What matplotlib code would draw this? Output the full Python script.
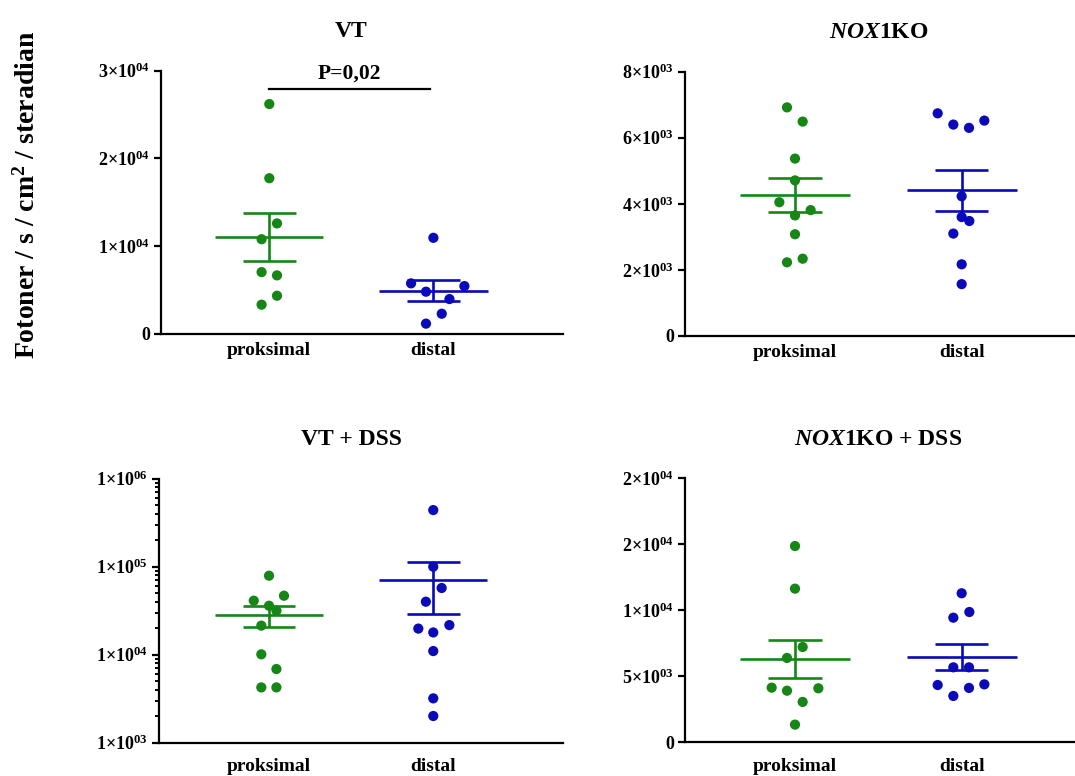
import numpy as np
import matplotlib
matplotlib.use("Agg")
import matplotlib.pyplot as plt
from matplotlib.ticker import FixedLocator, FixedFormatter, NullFormatter

plt.rcParams.update({
    "font.family": "Liberation Serif",
    "font.weight": "bold",
    "mathtext.fontset": "custom",
    "mathtext.rm": "Liberation Serif:bold",
    "mathtext.it": "Liberation Serif:italic:bold",
    "mathtext.bf": "Liberation Serif:bold",
    "axes.linewidth": 1.6,
})

groups = ["proksimal", "distal"]

# Fotoner / s / cm^2 / steradian per mus
vt_prox = [26200, 17750, 12600, 10800, 7050, 6680, 4360, 3340]
vt_dist = [10960, 5770, 5460, 4820, 3980, 2310, 1180]

ko_prox = [6920, 6490, 5370, 4710, 4050, 3810, 3650, 3080, 2340, 2230]
ko_dist = [6740, 6520, 6400, 6300, 4230, 3600, 3480, 3100, 2170, 1570]

vtdss_prox = [79000, 46800, 41100, 36000, 31600, 21400, 10100, 6870, 4250, 4250]
vtdss_dist = [440000, 100000, 57300, 40000, 21700, 19800, 17900, 11000, 3190, 2010]

kodss_prox = [14870, 11640, 7220, 6390, 4140, 4090, 3910, 3060, 1340]
kodss_dist = [11290, 9870, 9440, 5680, 5680, 4340, 4390, 4120, 3510]

# sideways spread of the dots inside each column (fraction of column spacing)
vt_prox_dx = [0, 0, 0.047, -0.047, -0.047, 0.047, 0.047, -0.047]
vt_dist_dx = [0, -0.136, 0.189, -0.045, 0.098, 0.051, -0.045]
ko_prox_dx = [-0.048, 0.046, 0, 0, -0.094, 0.094, 0, 0, 0.046, -0.048]
ko_dist_dx = [-0.144, 0.136, -0.05, 0.044, 0, 0, 0.046, -0.05, 0, 0]
vtdss_prox_dx = [0, 0.091, -0.093, 0, 0.045, -0.047, -0.047, 0.045, -0.047, 0.045]
vtdss_dist_dx = [0, 0, 0.051, -0.045, 0.098, -0.091, 0, 0, 0, 0]
kodss_prox_dx = [0, 0, 0.046, -0.048, -0.14, 0.14, -0.048, 0.046, 0]
kodss_dist_dx = [0, 0.046, -0.05, -0.05, 0.044, -0.144, 0.136, 0.044, -0.05]

GREEN = "#168616"
BLUE = "#0a0ab8"


def sci(m, e):
    return f"{m}×10$^{{{e}}}$"


fig = plt.figure(figsize=(10.75, 7.76), dpi=100)


def panel(rect, title, prox, dist, prox_dx, dist_dx, ticks, labels, xlim,
          log=False, xpad=6):
    ax = fig.add_axes(rect)
    for i, (vals, dx, col) in enumerate([(prox, prox_dx, GREEN),
                                         (dist, dist_dx, BLUE)]):
        v = np.asarray(vals, float)
        m = v.mean()
        sem = v.std(ddof=1) / np.sqrt(len(v))
        ax.hlines(m, i - 0.33, i + 0.33, color=col, lw=1.9, zorder=2)
        ax.hlines([m - sem, m + sem], i - 0.16, i + 0.16, color=col, lw=1.9, zorder=2)
        ax.vlines(i, m - sem, m + sem, color=col, lw=1.9, zorder=2)
        ax.scatter(i + np.asarray(dx), v, s=54, color=col, edgecolor="none",
                   zorder=3, clip_on=False)

    if log:
        ax.set_yscale("log")
        ax.yaxis.set_minor_locator(FixedLocator(
            [k * 10.0 ** d for d in range(3, 6) for k in range(2, 10)]))
        ax.yaxis.set_minor_formatter(NullFormatter())
        ax.tick_params(axis="y", which="minor", length=3, width=1.4)
    ax.set_ylim(ticks[0], ticks[-1])
    ax.yaxis.set_major_locator(FixedLocator(ticks))
    ax.yaxis.set_major_formatter(FixedFormatter(labels))
    ax.tick_params(axis="y", which="major", length=5, width=1.6, pad=3,
                   labelsize=13)

    ax.set_xlim(*xlim)
    ax.set_xticks([0, 1])
    ax.set_xticklabels(groups)
    ax.tick_params(axis="x", length=0, pad=xpad, labelsize=14)

    for s in ("top", "right"):
        ax.spines[s].set_visible(False)

    ax.annotate(title, xy=(0.5, 1), xycoords=("data", "axes fraction"),
                xytext=(0, 24), textcoords="offset points",
                ha="center", va="baseline", fontsize=17)
    return ax


W, H = 1075, 776


def rect(left, right, top, bottom):
    return [left / W, 1 - bottom / H, (right - left) / W, (bottom - top) / H]


ax1 = panel(rect(161, 563, 70.7, 334), "VT", vt_prox, vt_dist,
            vt_prox_dx, vt_dist_dx,
            [0, 1e4, 2e4, 3e4], ["0", sci(1, "04"), sci(2, "04"), sci(3, "04")],
            (-0.66, 1.79))
ax1.plot([0, 0.98], [27900, 27900], color="black", lw=1.6, clip_on=False)
ax1.annotate("P=0,02", xy=(0.49, 27900), xytext=(0, 4),
             textcoords="offset points", ha="center", va="bottom", fontsize=15.5)

panel(rect(685, 1075, 71.7, 336), "$\\mathit{NOX1}$KO", ko_prox, ko_dist,
      ko_prox_dx, ko_dist_dx,
      [0, 2e3, 4e3, 6e3, 8e3],
      ["0", sci(2, "03"), sci(4, "03"), sci(6, "03"), sci(8, "03")],
      (-0.66, 1.68))

panel(rect(159, 563, 478.7, 742.7), "VT + DSS", vtdss_prox, vtdss_dist,
      vtdss_prox_dx, vtdss_dist_dx,
      [1e3, 1e4, 1e5, 1e6],
      [sci(1, "03"), sci(1, "04"), sci(1, "05"), sci(1, "06")],
      (-0.67, 1.79), log=True, xpad=11)

panel(rect(685, 1075, 478.3, 742.3), "$\\mathit{NOX1}$KO + DSS",
      kodss_prox, kodss_dist, kodss_prox_dx, kodss_dist_dx,
      [0, 5e3, 1e4, 1.5e4, 2e4],
      ["0", sci(5, "03"), sci(1, "04"), sci(2, "04"), sci(2, "04")],
      (-0.66, 1.68), xpad=11)

fig.text(0.025, 0.749, "Fotoner / s / cm$^2$ / steradian", rotation=90,
         ha="center", va="center", fontsize=20)

fig.savefig("out.png", dpi=100)
